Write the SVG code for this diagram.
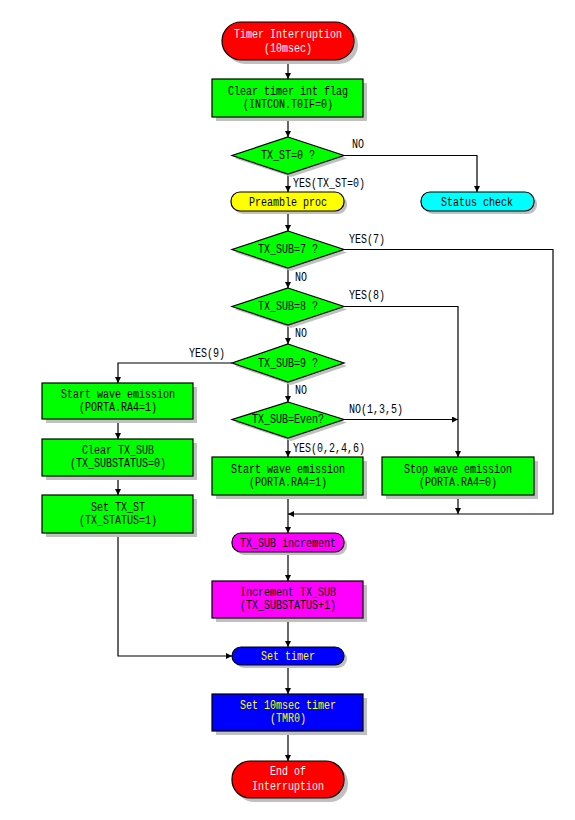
<svg xmlns="http://www.w3.org/2000/svg" width="575" height="820" viewBox="0 0 575 820">
<style>
text{font-family:"Liberation Mono","DejaVu Sans Mono",monospace;font-size:12px;fill:#000}
.c{text-anchor:middle}
.w{fill:#fff}
.y{fill:#ffff00}
.sh{fill:#c0c0c0;stroke:none}
.n{stroke:#000;stroke-width:1.2}
.g{fill:#00ff00}
.r{fill:#ff0000}
.ye{fill:#ffff00}
.cy{fill:#00ffff}
.m{fill:#ff00ff}
.b{fill:#0000ff}
.ln{fill:none;stroke:#000;stroke-width:1.2}
</style>
<defs>
<marker id="a" markerUnits="userSpaceOnUse" markerWidth="7" markerHeight="7" refX="6" refY="3" orient="auto">
<path d="M0,0 L6,3 L0,6 z" fill="#000"/>
</marker>
</defs>
<rect width="575" height="820" fill="#fff"/>
<g id="connectors" class="ln" marker-end="url(#a)">
<path d="M288,60 V79"/>
<path d="M288,117 V137"/>
<path d="M344,155.5 H477 V192"/>
<path d="M288,174 V192"/>
<path d="M288,211 V231"/>
<path d="M288,268 V288"/>
<path d="M288,325 V344"/>
<path d="M288,382 V402"/>
<path d="M288,438 V457"/>
<path d="M344,419.5 H458"/>
<path d="M344,306.5 H458 V457"/>
<path d="M458,495 V514"/>
<path d="M344,249.5 H553 V514 H288"/>
<path d="M288,495 V533"/>
<path d="M232,363 H118 V383"/>
<path d="M118,419 V439"/>
<path d="M118,476 V495"/>
<path d="M118,533 V656 H232"/>
<path d="M288,552 V581"/>
<path d="M288,618 V647"/>
<path d="M288,665 V694"/>
<path d="M288,731 V761"/>
</g>
<g id="labels">
<text x="352" y="148" textLength="12" lengthAdjust="spacingAndGlyphs">NO</text>
<text x="293" y="187" textLength="72" lengthAdjust="spacingAndGlyphs">YES(TX_ST=0)</text>
<text x="349" y="243" textLength="36" lengthAdjust="spacingAndGlyphs">YES(7)</text>
<text x="295" y="281" textLength="12" lengthAdjust="spacingAndGlyphs">NO</text>
<text x="349" y="299" textLength="36" lengthAdjust="spacingAndGlyphs">YES(8)</text>
<text x="295" y="337" textLength="12" lengthAdjust="spacingAndGlyphs">NO</text>
<text x="189" y="357" textLength="36" lengthAdjust="spacingAndGlyphs">YES(9)</text>
<text x="295" y="394" textLength="12" lengthAdjust="spacingAndGlyphs">NO</text>
<text x="349" y="413" textLength="54" lengthAdjust="spacingAndGlyphs">NO(1,3,5)</text>
<text x="293" y="452" textLength="72" lengthAdjust="spacingAndGlyphs">YES(0,2,4,6)</text>
</g>
<g id="start">
<rect class="sh" x="226" y="26" width="132" height="38" rx="19"/>
<rect class="n r" x="222" y="22" width="132" height="38" rx="19"/>
<text class="c w" x="288" y="38" textLength="108" lengthAdjust="spacingAndGlyphs">Timer Interruption</text>
<text class="c w" x="288" y="52" textLength="48" lengthAdjust="spacingAndGlyphs">(10msec)</text>
</g>
<g id="clearflag">
<rect class="sh" x="216" y="83" width="151" height="38"/>
<rect class="n g" x="212" y="79" width="151" height="38"/>
<text class="c" x="288" y="95" textLength="120" lengthAdjust="spacingAndGlyphs">Clear timer int flag</text>
<text class="c" x="288" y="108" textLength="90" lengthAdjust="spacingAndGlyphs">(INTCON.T0IF=0)</text>
</g>
<g id="d_txst">
<polygon class="sh" points="291,140 347,158.5 291,177 235,158.5"/>
<polygon class="n g" points="288,137 344,155.5 288,174 232,155.5"/>
<text class="c" x="288" y="159" textLength="54" lengthAdjust="spacingAndGlyphs">TX_ST=0 ?</text>
</g>
<g id="preamble">
<rect class="sh" x="234" y="195" width="113" height="19" rx="9"/>
<rect class="n ye" x="231" y="192" width="113" height="19" rx="9"/>
<text class="c" x="288" y="206" textLength="78" lengthAdjust="spacingAndGlyphs">Preamble proc</text>
</g>
<g id="status">
<rect class="sh" x="424" y="195" width="113" height="19" rx="9"/>
<rect class="n cy" x="421" y="192" width="113" height="19" rx="9"/>
<text class="c" x="477" y="206" textLength="72" lengthAdjust="spacingAndGlyphs">Status check</text>
</g>
<g id="d_sub7">
<polygon class="sh" points="291,234 347,252.5 291,271 235,252.5"/>
<polygon class="n g" points="288,231 344,249.5 288,268 232,249.5"/>
<text class="c" x="288" y="253" textLength="60" lengthAdjust="spacingAndGlyphs">TX_SUB=7 ?</text>
</g>
<g id="d_sub8">
<polygon class="sh" points="291,291 347,309.5 291,328 235,309.5"/>
<polygon class="n g" points="288,288 344,306.5 288,325 232,306.5"/>
<text class="c" x="288" y="310" textLength="60" lengthAdjust="spacingAndGlyphs">TX_SUB=8 ?</text>
</g>
<g id="d_sub9">
<polygon class="sh" points="291,347 347,366 291,385 235,366"/>
<polygon class="n g" points="288,344 344,363 288,382 232,363"/>
<text class="c" x="288" y="367" textLength="60" lengthAdjust="spacingAndGlyphs">TX_SUB=9 ?</text>
</g>
<g id="d_even">
<polygon class="sh" points="291,405 347,422.5 291,441 235,422.5"/>
<polygon class="n g" points="288,402 344,419.5 288,438 232,419.5"/>
<text class="c" x="288" y="423" textLength="72" lengthAdjust="spacingAndGlyphs">TX_SUB=Even?</text>
</g>
<g id="startwave_mid">
<rect class="sh" x="216" y="461" width="151" height="38"/>
<rect class="n g" x="212" y="457" width="151" height="38"/>
<text class="c" x="288" y="473" textLength="114" lengthAdjust="spacingAndGlyphs">Start wave emission</text>
<text class="c" x="288" y="486" textLength="78" lengthAdjust="spacingAndGlyphs">(PORTA.RA4=1)</text>
</g>
<g id="stopwave">
<rect class="sh" x="386" y="461" width="152" height="38"/>
<rect class="n g" x="382" y="457" width="152" height="38"/>
<text class="c" x="458" y="473" textLength="108" lengthAdjust="spacingAndGlyphs">Stop wave emission</text>
<text class="c" x="458" y="486" textLength="78" lengthAdjust="spacingAndGlyphs">(PORTA.RA4=0)</text>
</g>
<g id="startwave_left">
<rect class="sh" x="46" y="387" width="151" height="36"/>
<rect class="n g" x="42" y="383" width="151" height="36"/>
<text class="c" x="118" y="398" textLength="114" lengthAdjust="spacingAndGlyphs">Start wave emission</text>
<text class="c" x="118" y="411" textLength="78" lengthAdjust="spacingAndGlyphs">(PORTA.RA4=1)</text>
</g>
<g id="clearsub">
<rect class="sh" x="46" y="443" width="151" height="37"/>
<rect class="n g" x="42" y="439" width="151" height="37"/>
<text class="c" x="118" y="454" textLength="72" lengthAdjust="spacingAndGlyphs">Clear TX_SUB</text>
<text class="c" x="118" y="467" textLength="96" lengthAdjust="spacingAndGlyphs">(TX_SUBSTATUS=0)</text>
</g>
<g id="settxst">
<rect class="sh" x="46" y="499" width="151" height="38"/>
<rect class="n g" x="42" y="495" width="151" height="38"/>
<text class="c" x="118" y="511" textLength="54" lengthAdjust="spacingAndGlyphs">Set TX_ST</text>
<text class="c" x="118" y="524" textLength="78" lengthAdjust="spacingAndGlyphs">(TX_STATUS=1)</text>
</g>
<g id="subinc_term">
<rect class="sh" x="235" y="536" width="112" height="19" rx="9"/>
<rect class="n m" x="232" y="533" width="112" height="19" rx="9"/>
<text class="c" x="288" y="547" textLength="96" lengthAdjust="spacingAndGlyphs">TX_SUB increment</text>
</g>
<g id="incsub">
<rect class="sh" x="216" y="585" width="151" height="37"/>
<rect class="n m" x="212" y="581" width="151" height="37"/>
<text class="c" x="288" y="596" textLength="96" lengthAdjust="spacingAndGlyphs">Increment TX_SUB</text>
<text class="c" x="288" y="609" textLength="96" lengthAdjust="spacingAndGlyphs">(TX_SUBSTATUS+1)</text>
</g>
<g id="settimer_term">
<rect class="sh" x="235" y="650" width="112" height="18" rx="9"/>
<rect class="n b" x="232" y="647" width="112" height="18" rx="9"/>
<text class="c y" x="288" y="660" textLength="54" lengthAdjust="spacingAndGlyphs">Set timer</text>
</g>
<g id="set10ms">
<rect class="sh" x="216" y="698" width="151" height="37"/>
<rect class="n b" x="212" y="694" width="151" height="37"/>
<text class="c y" x="288" y="709" textLength="96" lengthAdjust="spacingAndGlyphs">Set 10msec timer</text>
<text class="c y" x="288" y="722" textLength="36" lengthAdjust="spacingAndGlyphs">(TMR0)</text>
</g>
<g id="end">
<rect class="sh" x="236" y="765" width="112" height="37" rx="18"/>
<rect class="n r" x="232" y="761" width="112" height="37" rx="18"/>
<text class="c w" x="288" y="775" textLength="36" lengthAdjust="spacingAndGlyphs">End of</text>
<text class="c w" x="288" y="790" textLength="72" lengthAdjust="spacingAndGlyphs">Interruption</text>
</g>
</svg>
